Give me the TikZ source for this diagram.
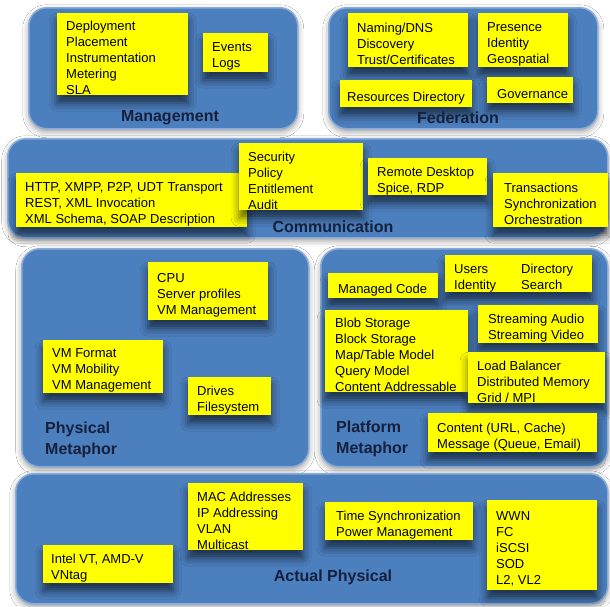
\documentclass[tikz,border=0pt]{standalone}
\usepackage{fontspec}
\setmainfont{Liberation Sans}
\usetikzlibrary{shadows.blur}

\definecolor{panelblue}{HTML}{4C7FBE}
\definecolor{panelrim}{HTML}{8AACD8}
\definecolor{labelnavy}{HTML}{16203C}
\definecolor{boxyellow}{HTML}{FFFF00}

% lines of a yellow box, set a little below the box centre
\newcommand\ylines[2]{\raisebox{-7pt}[0pt][0pt]{\parbox[c]{#1}{\raggedright #2}}}

\begin{document}
\begin{tikzpicture}[x=1pt,y=-1pt,
  panel/.style={draw=panelrim, line width=1.5pt, fill=panelblue,
    rounded corners=18pt, anchor=north west, inner sep=0pt,
    blur shadow={shadow xshift=0pt, shadow yshift=-3pt,
      shadow blur radius=6pt, shadow opacity=40}},
  ybox/.style={fill=boxyellow, anchor=north west,
    inner xsep=9pt, inner ysep=0pt, text=black,
    font=\fontsize{13pt}{16pt}\selectfont,
    blur shadow={shadow xshift=0pt, shadow yshift=-8pt,
      shadow blur radius=8pt, shadow opacity=60}},
  plabel/.style={text=labelnavy, font=\bfseries\fontsize{16pt}{21pt}\selectfont,
    inner sep=0pt}
]
\useasboundingbox (0,0) rectangle (610,606);
\fill[white] (0,0) rectangle (610,606);

% ---------- panels ----------
\node[panel, minimum width=269pt, minimum height=121pt] (mgmt) at (28,7) {};
\node[panel, minimum width=269pt, minimum height=121pt] (fed) at (328,7) {};
\node[panel, minimum width=600pt, minimum height=99pt] (comm) at (7,138) {};
\node[panel, minimum width=287pt, minimum height=218pt] (phys) at (21,248) {};
\node[panel, minimum width=287pt, minimum height=218pt] (plat) at (320,248) {};
\node[panel, minimum width=592pt, minimum height=130pt] (act) at (15,473) {};

% ---------- Management ----------
\node[ybox, minimum height=82pt] (deploy) at (57,13)
  {\ylines{113pt}{Deployment\\Placement\\Instrumentation\\Metering\\SLA}};
\node[ybox, minimum height=39pt] (events) at (203,33)
  {\ylines{47pt}{Events\\Logs}};
\node[plabel] (mgmtlabel) at (170,118) {Management};

% ---------- Federation ----------
\node[ybox, minimum height=54pt] (naming) at (348,13)
  {\ylines{102pt}{Naming/DNS\\Discovery\\Trust/Certificates}};
\node[ybox, minimum height=54pt] (presence) at (478,13)
  {\ylines{72pt}{Presence\\Identity\\Geospatial}};
\node[ybox, minimum height=27pt, inner xsep=7pt] (resdir) at (340,80)
  {\ylines{118pt}{Resources Directory}};
\node[ybox, minimum height=26pt, inner xsep=10pt] (gov) at (487,77)
  {\ylines{66pt}{Governance}};
\node[plabel] (fedlabel) at (458,118) {Federation};

% ---------- Communication ----------
\node[ybox, minimum height=54pt] (http) at (16,173)
  {\ylines{213pt}{HTTP, XMPP, P2P, UDT Transport\\REST, XML Invocation\\XML Schema, SOAP Description}};
\node[ybox, minimum height=67pt] (security) at (239,143)
  {\ylines{106pt}{Security\\Policy\\Entitlement\\Audit}};
\node[ybox, minimum height=37pt] (remote) at (368,158)
  {\ylines{101pt}{Remote Desktop\\Spice, RDP}};
\node[ybox, minimum height=54pt, inner xsep=11pt] (trans) at (493,173)
  {\ylines{93pt}{Transactions\\Synchronization\\Orchestration}};
\node[plabel] (commlabel) at (333,227) {Communication};

% ---------- Physical Metaphor ----------
\node[ybox, minimum height=58pt] (cpu) at (148,262)
  {\ylines{102pt}{CPU\\Server profiles\\VM Management}};
\node[ybox, minimum height=53pt] (vmformat) at (43,340)
  {\ylines{102pt}{VM Format\\VM Mobility\\VM Management}};
\node[ybox, minimum height=38pt] (drives) at (188,377)
  {\ylines{65pt}{Drives\\Filesystem}};
\node[plabel, anchor=west, align=left] (physlabel) at (45,440) {Physical\\Metaphor};

% ---------- Platform Metaphor ----------
\node[ybox, minimum height=25pt, inner xsep=10pt] (managed) at (328,273)
  {\ylines{90pt}{Managed Code}};
\node[ybox, minimum height=37pt] (users) at (445,255)
  {\ylines{129pt}{\makebox[67pt][l]{Users}Directory\\\makebox[67pt][l]{Identity}Search}};
\node[ybox, minimum height=82pt, inner xsep=10pt] (blob) at (325,310)
  {\ylines{123pt}{Blob Storage\\Block Storage\\Map/Table Model\\Query Model\\Content Addressable}};
\node[ybox, minimum height=38pt, inner xsep=10pt] (stream) at (478,305)
  {\ylines{100pt}{Streaming Audio\\Streaming Video}};
\node[ybox, minimum height=51pt] (loadbal) at (468,352)
  {\ylines{119pt}{Load Balancer\\Distributed Memory\\Grid / MPI}};
\node[ybox, minimum height=39pt] (content) at (428,413)
  {\ylines{151pt}{Content (URL, Cache)\\Message (Queue, Email)}};
\node[plabel, anchor=west, align=left] (platlabel) at (336,439) {Platform\\Metaphor};

% ---------- Actual Physical ----------
\node[ybox, minimum height=67pt] (mac) at (188,483)
  {\ylines{97pt}{MAC Addresses\\IP Addressing\\VLAN\\Multicast}};
\node[ybox, minimum height=38pt, inner xsep=8pt] (intel) at (43,545)
  {\ylines{114pt}{Intel VT, AMD-V\\VNtag}};
\node[ybox, minimum height=38pt, inner xsep=11pt] (timesync) at (325,502)
  {\ylines{126pt}{Time Synchronization\\Power Management}};
\node[ybox, minimum height=90pt] (wwn) at (487,500)
  {\ylines{92pt}{WWN\\FC\\iSCSI\\SOD\\L2, VL2}};
\node[plabel] (actlabel) at (333,577) {Actual Physical};
\end{tikzpicture}
\end{document}
